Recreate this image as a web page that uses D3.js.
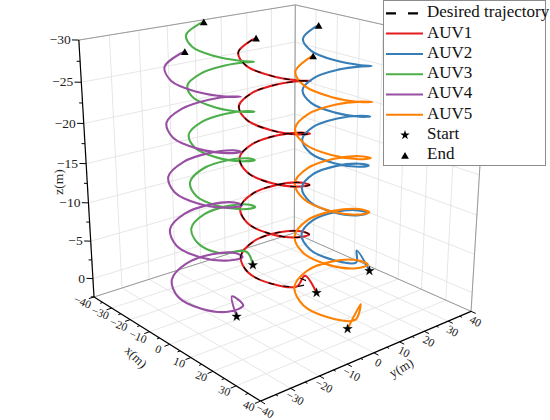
<!DOCTYPE html>
<html>
<head>
<meta charset="utf-8">
<script src="https://cdn.jsdelivr.net/npm/d3@7"></script>
<style>
  body { margin: 0; background: #fff; }
  svg { display: block; }
  svg text { font-family: "Liberation Serif", "Times New Roman", serif; }
</style>
</head>
<body>
<svg id="chart" width="550" height="420" font-family="Liberation Serif"></svg>
<script>
// ---- data (x, y, z in metres, sampled every 1/8 turn) ----
const seriesNames = ['Desired trajectory', 'AUV1', 'AUV2', 'AUV3', 'AUV4', 'AUV5'];
const seriesColors = ['#000000', '#e41a1c', '#377eb8', '#4daf4a', '#984ea3', '#ff7f00'];
const xTicks = [-40, -30, -20, -10, 0, 10, 20, 30, 40];
const yTicks = [-40, -30, -20, -10, 0, 10, 20, 30, 40];
const zTicks = [-30, -25, -20, -15, -10, -5, 0];

const desired = [
  [0, 8, 0], [7.1, 5.1, -0.79], [10, -2, -1.57], [7.1, -9.1, -2.36], [0, -12, -3.14], [-7.1, -9.1, -3.93], [-10, -2, -4.71], [-7.1, 5.1, -5.5],
  [0, 8, -6.28], [7.1, 5.1, -7.07], [10, -2, -7.85], [7.1, -9.1, -8.64], [0, -12, -9.42], [-7.1, -9.1, -10.21], [-10, -2, -11], [-7.1, 5.1, -11.78],
  [0, 8, -12.57], [7.1, 5.1, -13.35], [10, -2, -14.14], [7.1, -9.1, -14.92], [0, -12, -15.71], [-7.1, -9.1, -16.49], [-10, -2, -17.28], [-7.1, 5.1, -18.06],
  [0, 8, -18.85], [7.1, 5.1, -19.63], [10, -2, -20.42], [7.1, -9.1, -21.21], [0, -12, -21.99], [-7.1, -9.1, -22.78], [-10, -2, -23.56], [-7.1, 5.1, -24.35],
  [0, 8, -25.13], [7.1, 5.1, -25.92], [10, -2, -26.7], [7.1, -9.1, -27.49], [0, -12, -28.27], [-7.1, -9.1, -29.06], [-10, -2, -29.85], [-9.9, -0.5, -30]
];
const auv1 = [
  [8.5, 7, 0.6], [1.5, 8.5, -0.5], [10, -2, -1.57], [7.1, -9.1, -2.36], [0, -12, -3.14], [-7.1, -9.1, -3.93], [-10, -2, -4.71], [-7.1, 5.1, -5.5],
  [0, 8, -6.28], [7.1, 5.1, -7.07], [10, -2, -7.85], [7.1, -9.1, -8.64], [0, -12, -9.42], [-7.1, -9.1, -10.21], [-10, -2, -11], [-7.1, 5.1, -11.78],
  [0, 8, -12.57], [7.1, 5.1, -13.35], [10, -2, -14.14], [7.1, -9.1, -14.92], [0, -12, -15.71], [-7.1, -9.1, -16.49], [-10, -2, -17.28], [-7.1, 5.1, -18.06],
  [0, 8, -18.85], [7.1, 5.1, -19.63], [10, -2, -20.42], [7.1, -9.1, -21.21], [0, -12, -21.99], [-7.1, -9.1, -22.78], [-10, -2, -23.56], [-7.1, 5.1, -24.35],
  [0, 8, -25.13], [7.1, 5.1, -25.92], [10, -2, -26.7], [7.1, -9.1, -27.49], [0, -12, -28.27], [-7.1, -9.1, -29.06], [-10, -2, -29.85], [-9.9, -0.5, -30]
];
const auv2 = [
  [7.1, 30.1, 0.6], [-1.3, 32.6, -0.8], [8.5, 23, -1.57], [5.6, 15.9, -2.36], [-1.5, 13, -3.14], [-8.6, 15.9, -3.93], [-11.5, 23, -4.71], [-8.6, 30.1, -5.5],
  [-1.5, 33, -6.28], [5.6, 30.1, -7.07], [8.5, 23, -7.85], [5.6, 15.9, -8.64], [-1.5, 13, -9.42], [-8.6, 15.9, -10.21], [-11.5, 23, -11], [-8.6, 30.1, -11.78],
  [-1.5, 33, -12.57], [5.6, 30.1, -13.35], [8.5, 23, -14.14], [5.6, 15.9, -14.92], [-1.5, 13, -15.71], [-8.6, 15.9, -16.49], [-11.5, 23, -17.28], [-8.6, 30.1, -18.06],
  [-1.5, 33, -18.85], [5.6, 30.1, -19.63], [8.5, 23, -20.42], [5.6, 15.9, -21.21], [-1.5, 13, -21.99], [-8.6, 15.9, -22.78], [-11.5, 23, -23.56], [-8.6, 30.1, -24.35],
  [-1.5, 33, -25.13], [5.6, 30.1, -25.92], [8.5, 23, -26.7], [5.6, 15.9, -27.49], [-1.5, 13, -28.27], [-8.6, 15.9, -29.06], [-11.5, 23, -29.85], [-11.4, 24.5, -30]
];
const auv3 = [
  [-19.5, 5.3, 0.6], [-21, 4, -1.2], [-20.4, -7.1, -2.36], [-27.5, -10, -3.14], [-34.6, -7.1, -3.93], [-37.5, 0, -4.71], [-34.6, 7.1, -5.5],
  [-27.5, 10, -6.28], [-20.4, 7.1, -7.07], [-17.5, 0, -7.85], [-20.4, -7.1, -8.64], [-27.5, -10, -9.42], [-34.6, -7.1, -10.21], [-37.5, 0, -11], [-34.6, 7.1, -11.78],
  [-27.5, 10, -12.57], [-20.4, 7.1, -13.35], [-17.5, 0, -14.14], [-20.4, -7.1, -14.92], [-27.5, -10, -15.71], [-34.6, -7.1, -16.49], [-37.5, 0, -17.28], [-34.6, 7.1, -18.06],
  [-27.5, 10, -18.85], [-20.4, 7.1, -19.63], [-17.5, 0, -20.42], [-20.4, -7.1, -21.21], [-27.5, -10, -21.99], [-34.6, -7.1, -22.78], [-37.5, 0, -23.56], [-34.6, 7.1, -24.35],
  [-27.5, 10, -25.13], [-20.4, 7.1, -25.92], [-17.5, 0, -26.7], [-20.4, -7.1, -27.49], [-27.5, -10, -28.27], [-34.6, -7.1, -29.06], [-37.5, 0, -29.85], [-37.4, 1.5, -30]
];
const auv4 = [
  [5.7, -20.8, 0.6], [-0.3, -17.8, -0.7], [7.6, -19.9, -1.0], [10.5, -27, -1.57], [7.6, -34.1, -2.36], [0.5, -37, -3.14], [-6.6, -34.1, -3.93], [-9.5, -27, -4.71], [-6.6, -19.9, -5.5],
  [0.5, -17, -6.28], [7.6, -19.9, -7.07], [10.5, -27, -7.85], [7.6, -34.1, -8.64], [0.5, -37, -9.42], [-6.6, -34.1, -10.21], [-9.5, -27, -11], [-6.6, -19.9, -11.78],
  [0.5, -17, -12.57], [7.6, -19.9, -13.35], [10.5, -27, -14.14], [7.6, -34.1, -14.92], [0.5, -37, -15.71], [-6.6, -34.1, -16.49], [-9.5, -27, -17.28], [-6.6, -19.9, -18.06],
  [0.5, -17, -18.85], [7.6, -19.9, -19.63], [10.5, -27, -20.42], [7.6, -34.1, -21.21], [0.5, -37, -21.99], [-6.6, -34.1, -22.78], [-9.5, -27, -23.56], [-6.6, -19.9, -24.35],
  [0.5, -17, -25.13], [7.6, -19.9, -25.92], [10.5, -27, -26.7], [7.6, -34.1, -27.49], [0.5, -37, -28.27], [-6.6, -34.1, -29.06], [-9.5, -27, -29.85], [-9.4, -25.5, -30]
];
const auv5 = [
  [31.5, -2, 0.6], [27.4, 6.8, -0.8], [36.5, -4, -1.57], [33.6, -11.1, -2.36], [26.5, -14, -3.14], [19.4, -11.1, -3.93], [16.5, -4, -4.71], [19.4, 3.1, -5.5],
  [26.5, 6, -6.28], [33.6, 3.1, -7.07], [36.5, -4, -7.85], [33.6, -11.1, -8.64], [26.5, -14, -9.42], [19.4, -11.1, -10.21], [16.5, -4, -11], [19.4, 3.1, -11.78],
  [26.5, 6, -12.57], [33.6, 3.1, -13.35], [36.5, -4, -14.14], [33.6, -11.1, -14.92], [26.5, -14, -15.71], [19.4, -11.1, -16.49], [16.5, -4, -17.28], [19.4, 3.1, -18.06],
  [26.5, 6, -18.85], [33.6, 3.1, -19.63], [36.5, -4, -20.42], [33.6, -11.1, -21.21], [26.5, -14, -21.99], [19.4, -11.1, -22.78], [16.5, -4, -23.56], [19.4, 3.1, -24.35],
  [26.5, 6, -25.13], [33.6, 3.1, -25.92], [36.5, -4, -26.7], [33.6, -11.1, -27.49], [26.5, -14, -28.27], [19.4, -11.1, -29.06], [16.5, -4, -29.85], [16.6, -2.5, -30]
];

// ---- 3D box + perspective camera ----
const zFloor = 2.5, zTop = -30;
const boxH = 0.99;
const camera = { az: 50, el: 19.5, dist: 8.31, focal: 1156, cx: 280, cy: 179.2 };
const xScale = d3.scaleLinear().domain([-40, 40]).range([-1, 1]);
const yScale = d3.scaleLinear().domain([-40, 40]).range([-1, 1]);
const zScale = d3.scaleLinear().domain([zFloor, zTop]).range([-boxH, boxH]);
const ca = Math.cos(camera.az * Math.PI / 180), sa = Math.sin(camera.az * Math.PI / 180);
const ce = Math.cos(camera.el * Math.PI / 180), se = Math.sin(camera.el * Math.PI / 180);

function project([x, y, z]) {
  const u = xScale(x), v = yScale(y), w = zScale(z);
  const across = ca * u + sa * v;
  const toward = sa * u - ca * v;
  const up = -se * toward + ce * w;
  const depth = ce * toward + se * w;
  const s = camera.focal / (camera.dist - depth);
  return [camera.cx + s * across, camera.cy - s * up];
}

const svg = d3.select('#chart');
const gGrid = svg.append('g');
const gAxes = svg.append('g');
const gData = svg.append('g');
const gMarks = svg.append('g');

function seg(g, a, b, color, w) {
  const p = project(a), q = project(b);
  g.append('line')
    .attr('x1', p[0]).attr('y1', p[1])
    .attr('x2', q[0]).attr('y2', q[1])
    .attr('stroke', color)
    .attr('stroke-width', w);
}

// grid on the floor and the two back walls
const gridColor = '#e0e0e0';
xTicks.forEach((t) => {
  seg(gGrid, [t, -40, zFloor], [t, 40, zFloor], gridColor, 0.8);
  seg(gGrid, [t, 40, zFloor], [t, 40, zTop], gridColor, 0.8);
});
yTicks.forEach((t) => {
  seg(gGrid, [-40, t, zFloor], [40, t, zFloor], gridColor, 0.8);
  seg(gGrid, [-40, t, zFloor], [-40, t, zTop], gridColor, 0.8);
});
zTicks.forEach((t) => {
  seg(gGrid, [-40, -40, t], [-40, 40, t], gridColor, 0.8);
  seg(gGrid, [-40, 40, t], [40, 40, t], gridColor, 0.8);
});

// box edges
const edgeColor = '#9a9a9a';
seg(gAxes, [-40, -40, zFloor], [-40, 40, zFloor], edgeColor, 1);
seg(gAxes, [-40, 40, zFloor], [40, 40, zFloor], edgeColor, 1);
seg(gAxes, [-40, 40, zFloor], [-40, 40, zTop], edgeColor, 1);
seg(gAxes, [40, 40, zFloor], [40, 40, zTop], edgeColor, 1);
seg(gAxes, [-40, -40, zTop], [-40, 40, zTop], edgeColor, 1);
seg(gAxes, [-40, 40, zTop], [40, 40, zTop], edgeColor, 1);

// axis lines
seg(gAxes, [-40, -40, zFloor], [40, -40, zFloor], '#000', 1.2);
seg(gAxes, [40, -40, zFloor], [40, 40, zFloor], '#000', 1.2);
seg(gAxes, [-40, -40, zFloor], [-40, -40, zTop], '#000', 1.2);

const fmt = d3.format('d');

// x axis ticks + labels
d3.range(-40, 40.1, 5).forEach((t) => {
  const len = t % 10 === 0 ? 1.8 : 0.9;
  seg(gAxes, [t, -40, zFloor], [t, -40 - len, zFloor], '#000', 1);
});
xTicks.forEach((t) => {
  const p = project([t, -40, zFloor]);
  gAxes.append('text')
    .attr('transform', `translate(${p[0] - 12},${p[1] + 6}) rotate(22)`)
    .attr('text-anchor', 'middle')
    .attr('dominant-baseline', 'middle')
    .attr('font-size', 11.5)
    .attr('fill', '#222')
    .text(fmt(t));
});

// y axis ticks + labels
d3.range(-40, 40.1, 5).forEach((t) => {
  const len = t % 10 === 0 ? 1.8 : 0.9;
  seg(gAxes, [40, t, zFloor], [40 + len, t, zFloor], '#000', 1);
});
yTicks.forEach((t) => {
  const p = project([40, t, zFloor]);
  gAxes.append('text')
    .attr('transform', `translate(${p[0] + 4},${p[1] + 11}) rotate(27)`)
    .attr('text-anchor', 'middle')
    .attr('dominant-baseline', 'middle')
    .attr('font-size', 11.5)
    .attr('fill', '#222')
    .text(fmt(t));
});

// z axis ticks + labels
d3.range(-30, zFloor + 0.01, 2.5).forEach((t) => {
  const len = t % 5 === 0 ? 1.4 : 0.7;
  seg(gAxes, [-40, -40, t], [-40 - len, -40 - len, t], '#000', 1);
});
zTicks.forEach((t) => {
  const p = project([-40, -40, t]);
  gAxes.append('text')
    .attr('x', p[0] - 8)
    .attr('y', p[1] + 1)
    .attr('text-anchor', 'end')
    .attr('dominant-baseline', 'middle')
    .attr('font-size', 13.5)
    .attr('fill', '#222')
    .text(fmt(t));
});

// axis titles
gAxes.append('text')
  .attr('transform', 'translate(135,358) rotate(45)')
  .attr('text-anchor', 'middle').attr('dominant-baseline', 'middle')
  .attr('font-size', 13).attr('fill', '#222').text('x(m)');
gAxes.append('text')
  .attr('transform', 'translate(402,369) rotate(-30)')
  .attr('text-anchor', 'middle').attr('dominant-baseline', 'middle')
  .attr('font-size', 13).attr('fill', '#222').text('y(m)');
gAxes.append('text')
  .attr('transform', 'translate(60,182) rotate(-90)')
  .attr('text-anchor', 'middle').attr('dominant-baseline', 'middle')
  .attr('font-size', 13.5).attr('fill', '#222').text('z(m)');

// trajectories
const line = d3.line().curve(d3.curveCatmullRom.alpha(0.5));
const auvs = [auv1, auv2, auv3, auv4, auv5];
auvs.forEach((path, i) => {
  gData.append('path')
    .attr('d', line(path.map(project)))
    .attr('fill', 'none')
    .attr('stroke', seriesColors[i + 1])
    .attr('stroke-width', 2.1)
    .attr('stroke-linejoin', 'round');
});
gData.append('path')
  .attr('d', line(desired.map(project)))
  .attr('fill', 'none')
  .attr('stroke', '#000')
  .attr('stroke-width', 1.2)
  .attr('stroke-dasharray', '6,9');

// start / end markers
const star = d3.symbol().type(d3.symbolStar).size(28);
const tri = d3.symbol().type(d3.symbolTriangle).size(26);
auvs.forEach((path) => {
  const s = project(path[0]);
  const e = project(path[path.length - 1]);
  gMarks.append('path').attr('d', star()).attr('transform', `translate(${s[0]},${s[1]})`)
    .attr('fill', '#000').attr('stroke', '#000').attr('stroke-width', 0.3);
  gMarks.append('path').attr('d', tri()).attr('transform', `translate(${e[0]},${e[1] + 1})`)
    .attr('fill', '#000');
});

// legend
const lg = svg.append('g');
lg.append('rect')
  .attr('x', 383.5).attr('y', 0.5).attr('width', 162).attr('height', 165)
  .attr('fill', '#fff').attr('stroke', '#8c8c8c').attr('stroke-width', 1);
const rowY = (i) => 13.3 + i * 20.3;
seriesNames.forEach((name, i) => {
  lg.append('line')
    .attr('x1', 386).attr('x2', 423)
    .attr('y1', rowY(i)).attr('y2', rowY(i))
    .attr('stroke', seriesColors[i])
    .attr('stroke-width', i === 0 ? 2.2 : 2)
    .attr('stroke-dasharray', i === 0 ? '10,12' : null);
  lg.append('text')
    .attr('x', 427).attr('y', rowY(i))
    .attr('dominant-baseline', 'middle')
    .attr('font-size', 17).attr('fill', '#111')
    .text(name);
});
lg.append('path').attr('d', star()).attr('transform', `translate(405,${rowY(6)})`).attr('fill', '#000');
lg.append('text').attr('x', 427).attr('y', rowY(6)).attr('dominant-baseline', 'middle')
  .attr('font-size', 17).attr('fill', '#111').text('Start');
lg.append('path').attr('d', tri()).attr('transform', `translate(405,${rowY(7) + 1})`).attr('fill', '#000');
lg.append('text').attr('x', 427).attr('y', rowY(7)).attr('dominant-baseline', 'middle')
  .attr('font-size', 17).attr('fill', '#111').text('End');
</script>
</body>
</html>
